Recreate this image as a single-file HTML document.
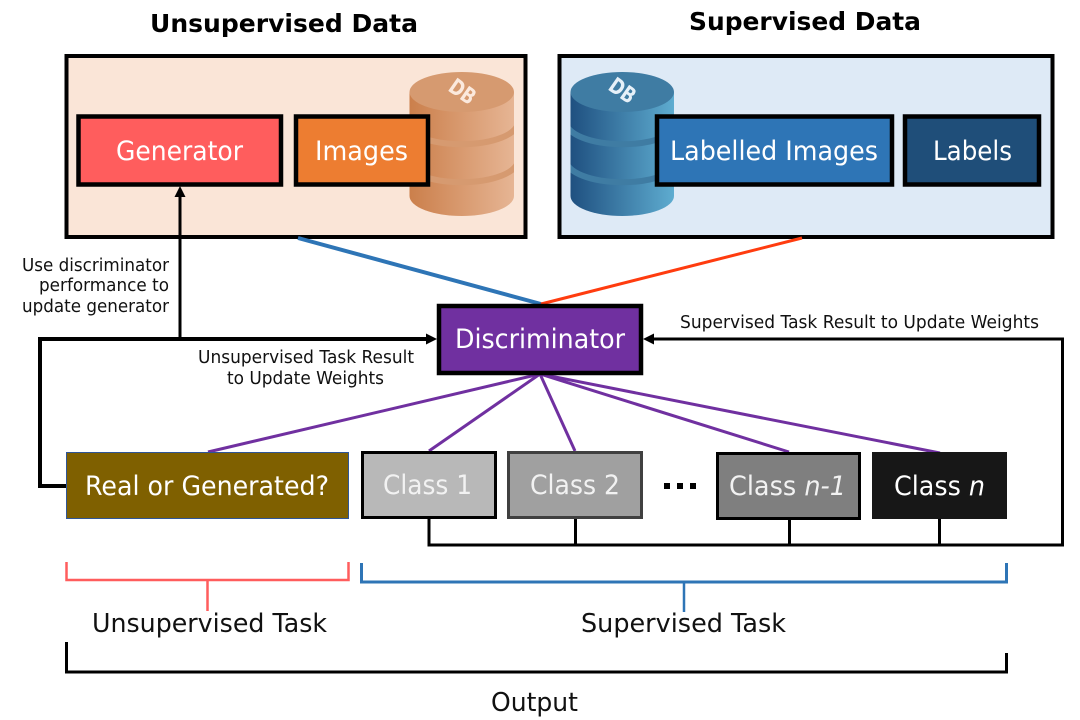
<!DOCTYPE html>
<html>
<head>
<meta charset="utf-8">
<style>
html,body{margin:0;padding:0;background:#fff;width:1080px;height:720px;overflow:hidden}
svg{display:block}
text{font-family:"DejaVu Sans","Liberation Sans",sans-serif}
.w{fill:#fff;font-size:26.500px}
.k{fill:#111;font-size:17.500px}
.t{fill:#111;font-size:25.500px}
.h{fill:#000;font-size:24.500px;font-weight:bold}
</style>
</head>
<body>
<svg width="1080" height="720" viewBox="0 0 1080 720" xmlns="http://www.w3.org/2000/svg">
<defs>
<linearGradient id="og" x1="0" x2="1" y1="0" y2="0"><stop offset="0" stop-color="#cb7f4b"/><stop offset="1" stop-color="#e6b594"/></linearGradient>
<linearGradient id="bg" x1="0" x2="1" y1="0" y2="0"><stop offset="0" stop-color="#1f5080"/><stop offset="1" stop-color="#5eacd0"/></linearGradient>
<clipPath id="oc"><path d="M409.500 92V196A52.250 20 0 0 0 514 196V92Z"/></clipPath>
<clipPath id="bc"><path d="M570.500 92V196A51.750 20 0 0 0 674 196V92Z"/></clipPath>
</defs>

<text class="h" x="150" y="32" textLength="268" lengthAdjust="spacingAndGlyphs">Unsupervised Data</text>
<text class="h" x="689" y="30" textLength="232" lengthAdjust="spacingAndGlyphs">Supervised Data</text>

<rect x="66.500" y="56" width="459" height="181" fill="#fae5d7" stroke="#000" stroke-width="4"/>
<rect x="559.500" y="56" width="493" height="181" fill="#deeaf6" stroke="#000" stroke-width="4"/>

<!-- orange DB -->
<path d="M409.500 92V196A52.250 20 0 0 0 514 196V92Z" fill="url(#og)"/>
<g clip-path="url(#oc)">
<path d="M405 122A56 22 0 0 0 518 122M405 160A56 22 0 0 0 518 160" fill="none" stroke="#d69a70" stroke-width="6"/>
</g>
<ellipse cx="461.750" cy="92" rx="52.250" ry="20" fill="#d69a70"/>
<text transform="translate(447,90) rotate(35) scale(0.78,1)" fill="#fbe9dd" font-size="22" font-weight="bold">DB</text>

<!-- blue DB -->
<path d="M570.500 92V196A51.750 20 0 0 0 674 196V92Z" fill="url(#bg)"/>
<g clip-path="url(#bc)">
<path d="M566 122A56 22 0 0 0 679 122M566 160A56 22 0 0 0 679 160" fill="none" stroke="#3f7ca3" stroke-width="6"/>
</g>
<ellipse cx="622.250" cy="92" rx="51.750" ry="20" fill="#3f7ca3"/>
<text transform="translate(607,89) rotate(35) scale(0.78,1)" fill="#e6f0f8" font-size="22" font-weight="bold">DB</text>

<!-- top boxes -->
<rect x="78.500" y="116.500" width="202.500" height="68" fill="#ff5d5d" stroke="#000" stroke-width="4.500"/>
<rect x="296" y="116.500" width="132" height="68" fill="#ed7d31" stroke="#000" stroke-width="4.500"/>
<rect x="657" y="116.500" width="235" height="68" fill="#2e75b6" stroke="#000" stroke-width="4.500"/>
<rect x="905" y="116.500" width="134" height="68" fill="#1f4e79" stroke="#000" stroke-width="4.500"/>
<text class="w" x="116" y="160" textLength="127" lengthAdjust="spacingAndGlyphs">Generator</text>
<text class="w" x="315" y="160" textLength="93" lengthAdjust="spacingAndGlyphs">Images</text>
<text class="w" x="670" y="160" textLength="208" lengthAdjust="spacingAndGlyphs">Labelled Images</text>
<text class="w" x="933" y="160" textLength="79" lengthAdjust="spacingAndGlyphs">Labels</text>

<!-- connectors to discriminator -->
<line x1="298" y1="238" x2="541" y2="304" stroke="#2e75b6" stroke-width="4"/>
<line x1="802" y1="238" x2="541" y2="304" stroke="#ff3c0f" stroke-width="3"/>

<!-- purple lines -->
<g stroke="#7030a0" stroke-width="3" fill="none">
<line x1="540" y1="374" x2="208" y2="452"/>
<line x1="540" y1="374" x2="429" y2="451"/>
<line x1="540" y1="374" x2="575" y2="451"/>
<line x1="540" y1="374" x2="789" y2="452"/>
<line x1="540" y1="374" x2="940" y2="453"/>
</g>

<!-- black connectors -->
<g fill="none" stroke="#000">
<path d="M67 486H40V339H430" stroke-width="4"/>
<path d="M180 339V194" stroke-width="3"/>
<path d="M650 339H1062.500V545H429V519M575.500 519V545M789.500 519V545M939.500 519V545" stroke-width="3"/>
</g>
<path d="M180 186L174.500 197H185.500Z" fill="#000"/>
<path d="M437 339L426 333.500V344.500Z" fill="#000"/>
<path d="M643 339L654 333.500V344.500Z" fill="#000"/>

<!-- discriminator -->
<rect x="439" y="306" width="202" height="67" fill="#7030a0" stroke="#000" stroke-width="4.500"/>
<text class="w" x="455" y="348" textLength="170" lengthAdjust="spacingAndGlyphs">Discriminator</text>

<!-- output boxes -->
<rect x="66.500" y="452.500" width="282" height="66" fill="#7f6000" stroke="#2f5597" stroke-width="1"/>
<rect x="362.500" y="452.500" width="133" height="65" fill="#b8b8b8" stroke="#000" stroke-width="3"/>
<rect x="508.500" y="452.500" width="133" height="65" fill="#a0a0a0" stroke="#404040" stroke-width="3"/>
<rect x="717.500" y="453.500" width="142" height="65" fill="#7f7f7f" stroke="#000" stroke-width="3"/>
<rect x="872" y="452" width="135" height="67" fill="#171717"/>
<text class="w" x="85" y="495" textLength="244" lengthAdjust="spacingAndGlyphs">Real or Generated?</text>
<text class="w" x="383" y="494" textLength="89" lengthAdjust="spacingAndGlyphs" style="fill:#f2f2f2">Class 1</text>
<text class="w" x="530" y="494" textLength="90" lengthAdjust="spacingAndGlyphs" style="fill:#f2f2f2">Class 2</text>
<text class="w" x="729" y="495" textLength="117" lengthAdjust="spacingAndGlyphs" style="fill:#f2f2f2">Class <tspan font-style="italic">n-1</tspan></text>
<text class="w" x="894" y="495" textLength="91" lengthAdjust="spacingAndGlyphs">Class <tspan font-style="italic">n</tspan></text>

<!-- dots -->
<rect x="664" y="483" width="6" height="6" fill="#000"/>
<rect x="677" y="483" width="6" height="6" fill="#000"/>
<rect x="690" y="483" width="6" height="6" fill="#000"/>

<!-- small labels -->
<text class="k" x="22" y="271" textLength="147" lengthAdjust="spacingAndGlyphs">Use discriminator</text>
<text class="k" x="39" y="291" textLength="130" lengthAdjust="spacingAndGlyphs">performance to</text>
<text class="k" x="22" y="312" textLength="147" lengthAdjust="spacingAndGlyphs">update generator</text>
<text class="k" x="198" y="363" textLength="216" lengthAdjust="spacingAndGlyphs">Unsupervised Task Result</text>
<text class="k" x="227" y="384" textLength="157" lengthAdjust="spacingAndGlyphs">to Update Weights</text>
<text class="k" x="680" y="328" textLength="359" lengthAdjust="spacingAndGlyphs">Supervised Task Result to Update Weights</text>

<!-- brackets -->
<path d="M66.500 562V580H348.500V562M207.500 580V611" fill="none" stroke="#ff5d5d" stroke-width="2.500"/>
<path d="M361.500 563V582H1006.500V563" fill="none" stroke="#2e75b6" stroke-width="3"/>
<path d="M684 582V612" fill="none" stroke="#2e75b6" stroke-width="2.500"/>
<path d="M66.500 642V672H1006.500V653" fill="none" stroke="#000" stroke-width="3"/>

<text class="t" x="92" y="632" textLength="235" lengthAdjust="spacingAndGlyphs">Unsupervised Task</text>
<text class="t" x="581" y="632" textLength="205" lengthAdjust="spacingAndGlyphs">Supervised Task</text>
<text class="t" x="491" y="711" textLength="87" lengthAdjust="spacingAndGlyphs">Output</text>
</svg>
</body>
</html>
